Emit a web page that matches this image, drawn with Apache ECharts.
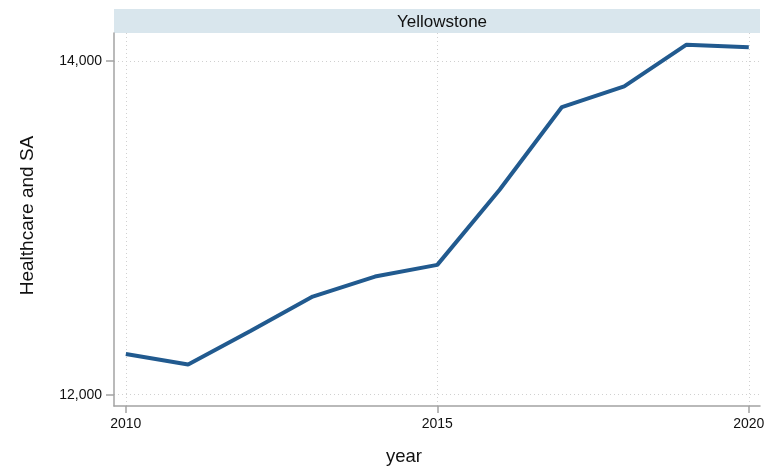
<!DOCTYPE html>
<html>
<head>
<meta charset="utf-8">
<script src="https://cdn.jsdelivr.net/npm/echarts@6/dist/echarts.min.js"></script>
<style>
    html, body { margin: 0; padding: 0; background: #fff; }
    #main { width: 779px; height: 468px; }
</style>
</head>
<body>
<div id="main"></div>
<script>
// 数据
var years = [2010, 2011, 2012, 2013, 2014, 2015, 2016, 2017, 2018, 2019, 2020];
var healthValues = [12244, 12181, 12382, 12588, 12708, 12778, 13228, 13724, 13848, 14098, 14082];
var xTicks = [2010, 2015, 2020];
var yTicks = [12000, 14000];
var panelTitle = 'Yellowstone';

var chart = echarts.init(document.getElementById('main'));
var axisColor = '#a3a3a3';
var gridColor = '#d0d0d0';
var fontFamily = '"Liberation Sans", Arial, sans-serif';

var option = {
    animation: false,
    title: {
        text: panelTitle,
        left: 437,
        top: 9,
        textAlign: 'center',
        textStyle: { fontFamily: fontFamily, fontSize: 17, fontWeight: 'normal', color: '#111' }
    },
    grid: [
        // 主绘图区
        { left: 114, right: 19, top: 33, bottom: 62, containLabel: false, outerBoundsMode: 'none' },
        // 标题条
        { left: 114, right: 19, top: 9, height: 24, show: true, backgroundColor: '#d9e6ed', borderWidth: 0, outerBoundsMode: 'none' }
    ],
    xAxis: [{
        type: 'value',
        gridIndex: 0,
        min: 2009.81,
        max: 2020.18,
        name: 'year',
        nameLocation: 'middle',
        nameGap: 41,
        nameTextStyle: { fontFamily: fontFamily, fontSize: 18.5, color: '#111', padding: [0, 66, 0, 0] },
        axisLine: { show: true, onZero: false, lineStyle: { color: axisColor, width: 1.5 } },
        axisTick: { show: true, length: 7, customValues: xTicks, lineStyle: { color: axisColor, width: 1.5 } },
        axisLabel: {
            customValues: xTicks, margin: 11, fontFamily: fontFamily, fontSize: 14, color: '#111',
            formatter: function (v) { return String(v); }
        },
        splitLine: { show: true, lineStyle: { color: gridColor, type: [1, 3], width: 1 } }
    }, {
        type: 'value',
        gridIndex: 1,
        show: false
    }],
    yAxis: [{
        type: 'value',
        gridIndex: 0,
        min: 11932,
        max: 14168,
        name: 'Healthcare and SA',
        nameLocation: 'middle',
        nameGap: 77,
        nameTextStyle: { fontFamily: fontFamily, fontSize: 19, color: '#111', padding: [0, 0, 0, 8] },
        axisLine: { show: true, lineStyle: { color: axisColor, width: 1.5 } },
        axisTick: { show: true, length: 8, customValues: yTicks, lineStyle: { color: axisColor, width: 1.5 } },
        axisLabel: {
            customValues: yTicks, margin: 12, fontFamily: fontFamily, fontSize: 14, color: '#111',
            formatter: function (v) { return v.toLocaleString('en-US'); }
        },
        splitLine: { show: true, lineStyle: { color: gridColor, type: [1, 3], width: 1 } }
    }, {
        type: 'value',
        gridIndex: 1,
        show: false
    }],
    series: [{
        type: 'line',
        xAxisIndex: 0,
        yAxisIndex: 0,
        data: years.map(function (y, i) { return [y, healthValues[i]]; }),
        showSymbol: false,
        lineStyle: { color: '#215a8f', width: 4 },
        itemStyle: { color: '#215a8f' }
    }]
};

chart.setOption(option);
</script>
</body>
</html>
